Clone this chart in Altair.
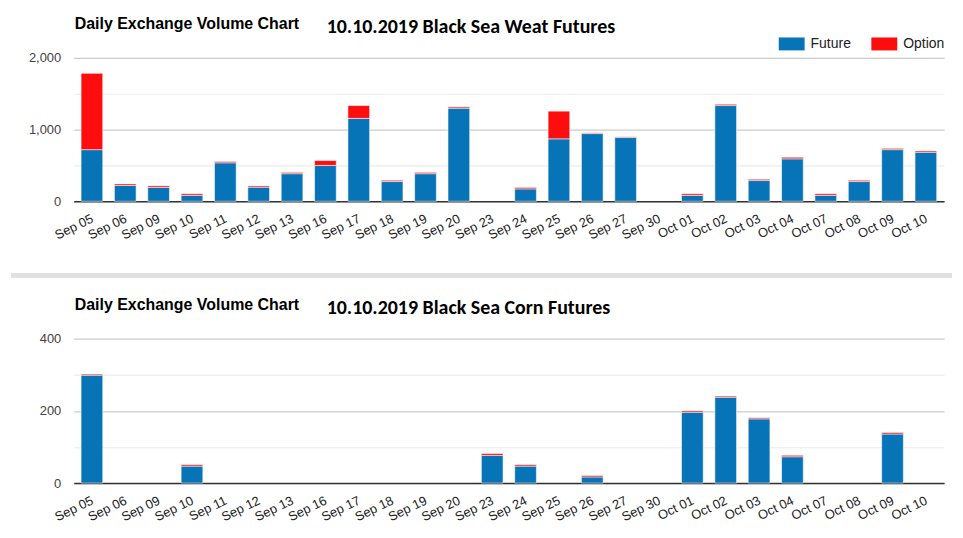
import altair as alt
import pandas as pd

# ---- data ----
dates = ["Sep 05", "Sep 06", "Sep 09", "Sep 10", "Sep 11", "Sep 12", "Sep 13",
         "Sep 16", "Sep 17", "Sep 18", "Sep 19", "Sep 20", "Sep 23", "Sep 24",
         "Sep 25", "Sep 26", "Sep 27", "Sep 30", "Oct 01", "Oct 02", "Oct 03",
         "Oct 04", "Oct 07", "Oct 08", "Oct 09", "Oct 10"]

wheat_future = [720, 220, 193, 83, 537, 197, 385, 500, 1156, 275, 385, 1298, 0,
                173, 871, 944, 889, 0, 83, 1335, 289, 592, 83, 275, 720, 683]
wheat_option = [1064, 22, 22, 22, 18, 18, 18, 68, 179, 18, 18, 18, 0,
                20, 386, 10, 10, 0, 22, 18, 18, 22, 22, 18, 18, 19]

corn_future = [299, 0, 0, 47, 0, 0, 0, 0, 0, 0, 0, 0, 77,
               47, 0, 17, 0, 0, 196, 238, 178, 73, 0, 0, 136, 0]
corn_option = [3, 0, 0, 4, 0, 0, 0, 0, 0, 0, 0, 0, 5,
               4, 0, 4, 0, 0, 4, 3, 3, 4, 0, 0, 4, 0]

series = ["Future", "Option"]
colors = ["#0874b8", "#fd0d0d"]

title_main = "Daily Exchange Volume Chart"
title_wheat = "10.10.2019 Black Sea Weat Futures"
title_corn = "10.10.2019 Black Sea Corn Futures"

W = 874
SANS = "Liberation Sans, Arial, sans-serif"


def panel(future, option, ymax, minor_step, major_step, h, product, separator):
    n = len(dates)
    df = pd.DataFrame({
        "date": dates * 2,
        "type": [series[0]] * n + [series[1]] * n,
        "ord": [0] * n + [1] * n,
        "value": future + option,
    })
    bars = alt.Chart(df).transform_filter("datum.value > 0").mark_bar(
        stroke="white", strokeWidth=1, strokeOpacity=0.55
    ).encode(
        x=alt.X("date:N", sort=dates, title=None,
                scale=alt.Scale(domain=dates, paddingInner=0.35, paddingOuter=0.22),
                axis=alt.Axis(labelAngle=-26, ticks=False, grid=False,
                              domainColor="#333333", domainWidth=1.5,
                              labelColor="#222222", labelFontSize=13,
                              labelFont=SANS, labelPadding=11, labelOffset=-2)),
        y=alt.Y("value:Q", stack="zero", title=None,
                scale=alt.Scale(domain=[0, ymax], nice=False),
                axis=alt.Axis(values=list(range(0, ymax + 1, minor_step)),
                              labelExpr=f"datum.value % {major_step} === 0 ? format(datum.value, ',') : ''",
                              ticks=False, domain=False, labelPadding=13,
                              labelColor="#444444", labelFontSize=13, labelFont=SANS,
                              gridColor={"condition": {"test": f"datum.value % {major_step} === 0",
                                                       "value": "#cccccc"},
                                         "value": "#ebebeb"},
                              gridWidth=1.2)),
        color=alt.Color("type:N",
                        scale=alt.Scale(domain=series, range=colors),
                        legend=alt.Legend(title=None, orient="none", legendX=708, legendY=-27,
                                          direction="horizontal",
                                          symbolType="M-1,-0.5H1V0.5H-1Z", symbolSize=676,
                                          symbolStrokeWidth=0, symbolOpacity=1,
                                          labelFontSize=14, labelColor="#222222",
                                          labelFont=SANS, labelOffset=6,
                                          columnPadding=20)),
        order=alt.Order("ord:Q", sort="ascending"),
    )
    t1 = alt.Chart(pd.DataFrame({"t": [title_main]})).mark_text(
        align="left", baseline="alphabetic", font=SANS, fontSize=16,
        fontWeight="bold", color="#000000"
    ).encode(x=alt.value(1), y=alt.value(-29), text="t:N")
    t2 = alt.Chart(pd.DataFrame({"t": [product]})).mark_text(
        align="left", baseline="alphabetic", font="Carlito, Lato, sans-serif", fontSize=20,
        fontWeight="bold", color="#000000"
    ).encode(x=alt.value(254), y=alt.value(-25), text="t:N")
    layers = [bars, t1, t2]
    if separator:
        sep = alt.Chart(pd.DataFrame({"s": [0]})).mark_rule(
            color="#e0e0e0", strokeWidth=5
        ).encode(x=alt.value(-63), x2=alt.value(882), y=alt.value(h + 74.5))
        layers.append(sep)
    return alt.layer(*layers).properties(width=W, height=h)


top = panel(wheat_future, wheat_option, 2000, 500, 1000, 144, title_wheat, True)
bottom = panel(corn_future, corn_option, 400, 100, 200, 145, title_corn, False)

chart = alt.vconcat(top, bottom, spacing=19).resolve_scale(
    y="independent", color="shared"
).properties(
    padding={"left": 0, "top": 7, "right": 0, "bottom": 0}
).configure_view(stroke=None)

chart.save("out.html", embed_options={"renderer": "svg", "actions": False})
